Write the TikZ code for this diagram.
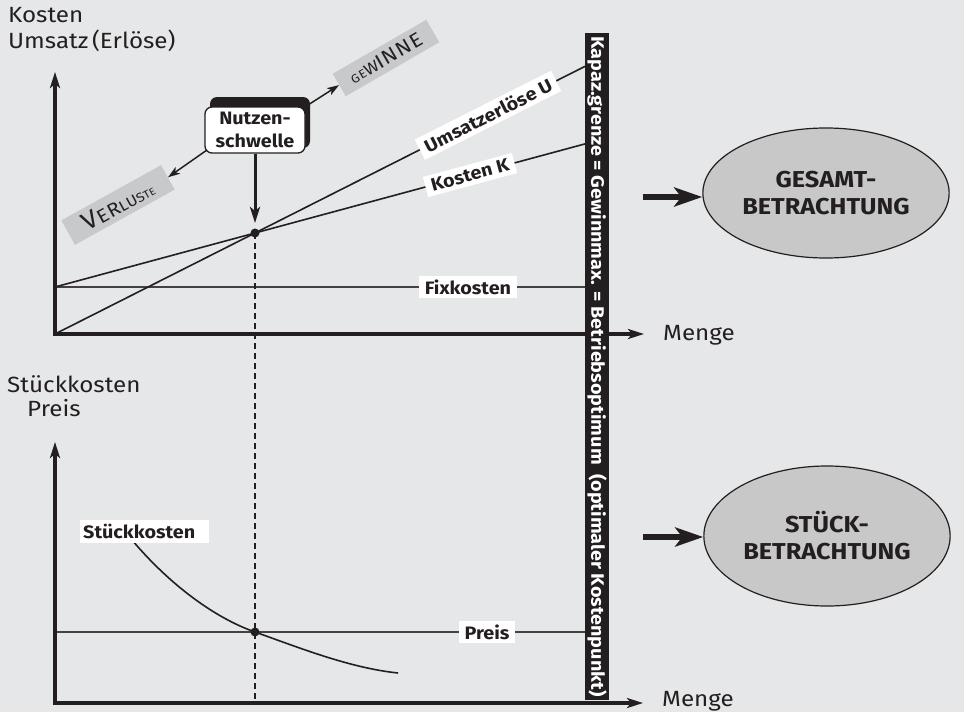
\documentclass[tikz,border=0pt]{standalone}
\usepackage{fontspec}
\setmainfont{Fira Sans}[FakeStretch=1.1]
\usetikzlibrary{arrows.meta,shapes.geometric}
\definecolor{bg}{HTML}{E6E7E8}
\definecolor{ink}{HTML}{231F20}
\definecolor{boxgray}{HTML}{C8C9CB}
\definecolor{ellgray}{HTML}{C8C8C8}
\tikzset{
  axisline/.style={line width=4pt, draw=ink, -{Stealth[length=16pt,width=10pt,inset=4pt]}},
  graphline/.style={line width=1.6pt, draw=ink},
  flatline/.style={line width=1.5pt, draw=ink!85},
  dashline/.style={line width=1.5pt, draw=ink, dash pattern=on 6pt off 4pt},
  thinarrow/.style={line width=1.5pt, draw=ink, -{Stealth[length=12pt,width=8pt,inset=3pt]}},
  midarrow/.style={line width=3pt, draw=ink, -{Stealth[length=16pt,width=10pt,inset=4pt]}},
  bigarrow/.style={line width=6pt, draw=ink, -{Stealth[length=28pt,width=19pt,inset=7pt]}},
  linelabel/.style={fill=white, text=ink, inner xsep=6pt, inner ysep=4pt, font=\bfseries\fontsize{18}{18}\selectfont},
  axistext/.style={text=ink, inner sep=0pt, font=\fontsize{22}{22}\selectfont},
  graybox/.style={fill=boxgray, text=ink, inner sep=0pt},
  dot/.style={circle, fill=ink, inner sep=0pt, minimum size=9pt},
  viewell/.style={ellipse, draw=ink, line width=1.2pt, fill=ellgray, text=ink,
    minimum width=230pt, align=center,
    font=\bfseries\fontsize{23}{27}\selectfont},
}
\begin{document}
\begin{tikzpicture}[x=1pt,y=-1pt]
% canvas
\fill[bg] (0,0) rectangle (964,712);
\useasboundingbox (0,0) rectangle (964,712);

% ---------- upper diagram: totals ----------
\coordinate (O1) at (55,334);
\coordinate (O1b) at (55,336);
\coordinate (Y1) at (55,72);
\coordinate (X1) at (644,334);
\coordinate (F) at (55,287);
\coordinate (FK) at (585,287);
\coordinate (UK) at (585,66.35);
\coordinate (KK) at (585,143.9);
\coordinate (BE) at (255,233);
\coordinate (BEa) at (255,223);

\node[axistext, anchor=base west] (tk) at (8,23) {Kosten};
\node[axistext, anchor=base west] (tu) at (8,48) {Umsatz\,(Erlöse)};
\node[axistext, anchor=base west] (m1) at (663,340) {Menge};

\draw[flatline] (F) -- (FK);
\draw[graphline] (O1) -- (UK);
\draw[graphline] (F) -- (KK);
\draw[dashline] (BE) -- (255,703);
\draw[axisline] (O1b) -- (Y1);
\draw[axisline] (O1) -- (X1);

\node[linelabel, rotate=26.8] (ul) at (488,115.3) {Umsatzerlöse U};
\node[linelabel, rotate=15.1] (kl) at (470,175) {Kosten K};
\node[linelabel] (fl) at (468,287) {Fixkosten};

% break-even box with its dark backing
\node[fill=ink, rounded corners=7pt, minimum width=100pt, minimum height=51pt, inner sep=0pt] (nsb) at (260,122.5) {};
\node[draw=ink, line width=1.3pt, fill=white, rounded corners=7pt, text=ink,
  minimum width=100pt, minimum height=46pt, inner sep=0pt, align=center,
  font=\bfseries\fontsize{18}{23}\selectfont] (ns) at (255,130) {Nutzen-\\schwelle};

\node[graybox, rotate=30, minimum width=108pt, minimum height=26pt] (gw) at (386,58)
  {\addfontfeatures{LetterSpace=5}\fontsize{12}{12}\selectfont GE\fontsize{16}{16}\selectfont W\fontsize{20}{20}\selectfont INNE};
\node[graybox, rotate=29, minimum width=114pt, minimum height=28pt] (vl) at (118,205)
  {\addfontfeatures{LetterSpace=3}\fontsize{25}{25}\selectfont V\fontsize{19}{19}\selectfont ER\fontsize{15}{15}\selectfont LU\fontsize{13}{13}\selectfont S\fontsize{11}{11}\selectfont T\fontsize{10}{10}\selectfont E};

\coordinate (nsgw) at (308,105);
\coordinate (nsvl) at (207,150);
\draw[thinarrow] (nsgw) -- (gw.west);
\draw[thinarrow] (nsvl) -- (vl.east);
\draw[midarrow] (ns.south) -- (BEa);
\node[dot] (bedot) at (BE) {};

% ---------- lower diagram: per unit ----------
\coordinate (O2) at (55,703);
\coordinate (O2b) at (55,705);
\coordinate (Y2) at (55,442);
\coordinate (X2) at (643,703);
\coordinate (P) at (55,632);
\coordinate (PK) at (585,632);
\coordinate (SE) at (255,632);
\coordinate (S0) at (132,540);
\coordinate (S1) at (398,673);

\node[axistext, anchor=base west] (ts) at (7,392) {Stückkosten};
\node[axistext, anchor=base west] (tp) at (27,416) {Preis};
\node[axistext, anchor=base west] (m2) at (662,706) {Menge};

\draw[flatline] (P) -- (PK);
\draw[graphline] (S0) .. controls (170,585) and (215,618) .. (SE)
                      .. controls (300,648) and (350,668) .. (S1);
\draw[axisline] (O2b) -- (Y2);
\draw[axisline] (O2) -- (X2);

\node[linelabel] (pl) at (487,632) {Preis};
\node[linelabel, inner xsep=3pt, anchor=west, text width=123pt, align=left] (sl) at (80,531.5) {Stückkosten};
\node[dot] (sedot) at (SE) {};

% ---------- capacity limit bar ----------
\node[fill=ink, rotate=-90, minimum width=667pt, minimum height=24pt, inner sep=0pt,
  text=white, font=\bfseries\fontsize{18}{18}\selectfont] (bar) at (597,366.5)
  {Kapaz.grenze = Gewinnmax. = Betriebsoptimum\ \ (optimaler Kostenpunkt)};

% ---------- views ----------
\node[viewell, minimum height=130pt] (ges) at (826,193) {GESAMT-\\BETRACHTUNG};
\node[viewell, minimum height=140pt] (stk) at (827,536) {STÜCK-\\BETRACHTUNG};
\coordinate (ga) at (643,197);
\coordinate (sa) at (643,537);
\draw[bigarrow] (ga) -- (ga -| ges.west);
\draw[bigarrow] (sa) -- (sa -| stk.west);
\end{tikzpicture}
\end{document}
